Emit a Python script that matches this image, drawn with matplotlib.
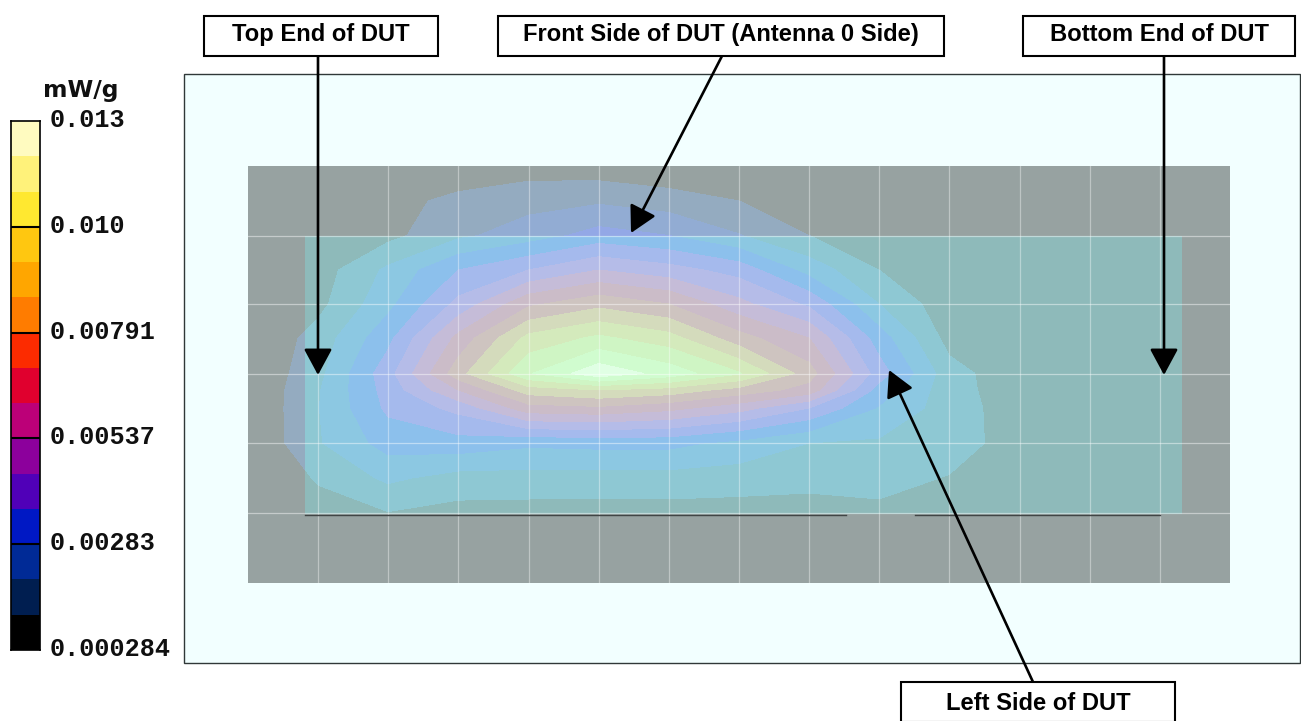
import numpy as np
import matplotlib
matplotlib.use("Agg")
import matplotlib.pyplot as plt
from matplotlib.patches import Rectangle

W, H = 1301, 721

# measurement grid (picture coordinates of the scan nodes)
x_nodes = [248, 318, 388, 458.4, 528.6, 598.7, 668.8, 739, 809, 879, 949.4, 1019.5, 1089.7, 1160, 1230]
y_nodes = [166, 201, 235.5, 270, 304, 338, 373.5, 390, 408, 443, 478, 513, 583]
x_grid = [318, 388, 458.4, 528.6, 598.7, 668.8, 739, 809, 879, 949.4, 1019.5, 1089.7, 1160]
y_grid = [235.5, 304, 373.5, 443, 513]

# field expressed in colour-band units
row_166 = [0, 0, 0, .17, .5, .38, .1, 0, 0, 0, 0, 0, 0, 0, 0]
row_201 = [0, 0, .6, 1.3, 1.65, 1.85, 1.5, 1.0, .4, 0, 0, 0, 0, 0, 0]
row_236 = [0, 0, .7, 1.8, 2.5, 3.4, 3.0, 2.05, 1.0, .4, 0, 0, 0, 0, 0]
row_270 = [0, .5, 2.2, 4.0, 5.0, 6.0, 5.4, 4.6, 2.6, 1.0, .1, 0, 0, 0, 0]
row_304 = [0, .7, 2.7, 5.3, 7.8, 8.7, 8.0, 6.3, 4.8, 2.0, .35, .05, 0, 0, 0]
row_338 = [0, 1.4, 3.7, 7.3, 10.3, 11.2, 10.4, 8.4, 7.0, 3.5, .6, .1, 0, 0, 0]
row_373 = [0, 1.7, 4.6, 8.6, 11.9, 13.7, 12.6, 11.1, 8.45, 4.5, 1.4, .3, .1, 0, 0]
row_390 = [0, 1.9, 4.4, 7.0, 9.5, 10.0, 9.6, 8.6, 7.6, 3.6, 1.4, .4, .05, 0, 0]
row_408 = [0, 1.95, 4.2, 5.3, 7.6, 7.8, 7.3, 6.4, 5.0, 2.9, 1.5, .45, 0, 0, 0]
row_443 = [0, 1.9, 3.4, 3.6, 3.2, 3.3, 3.3, 2.7, 2.0, 1.85, 1.4, .6, .1, 0, 0]
row_478 = [0, 1.1, 2.2, 1.6, 1.6, 1.6, 1.6, 1.5, 1.3, 1.3, .95, .2, 0, 0, 0]
row_513 = [0, .6, .95, .65, .6, .6, .6, .55, .6, .8, .1, 0, 0, 0, 0]
row_583 = [0] * 15
band_levels = list(range(1, 15))
inner_colors = ["#8ec8d3", "#8cc8e2", "#8cc0ec", "#a5baed", "#b5bce8", "#c5bcd8", "#cbbcc8",
                "#cec4c0", "#d4dbbc", "#d4eabc", "#cff5c4", "#d0fccf", "#e0ffe4"]
outer_colors = ["#94abc0", "#92acd3", "#93a8e6"] + inner_colors[3:]

# colour scale
scale_colors = ["#000000", "#001e50", "#002a96", "#0018c4", "#5000b8", "#8c009c", "#bc0078", "#e0002e",
                "#fc2b00", "#ff7c00", "#ffa600", "#ffc710", "#ffe830", "#fff27a", "#fffbc0"]
scale_labels = ["0.000284", "0.00283", "0.00537", "0.00791", "0.010", "0.013"]
scale_unit = "mW/g"

# callouts: label, box (x0, y0, x1, y1), text baseline, arrow tail, arrow head
callouts = [
    ("Top End of DUT", (204, 16, 438, 56), 41, (318, 56), (318, 375)),
    ("Front Side of DUT (Antenna 0 Side)", (498, 16, 944, 56), 41, (722, 56), (631, 233)),
    ("Bottom End of DUT", (1023, 16, 1295, 56), 41, (1164, 56), (1164, 375)),
    ("Left Side of DUT", (901, 682, 1175, 722), 710, (1033, 682), (889, 370)),
]

fig = plt.figure(figsize=(W / 100, H / 100), dpi=100, facecolor="white")
ax = fig.add_axes([0, 0, 1, 1])
ax.set_xlim(0, W)
ax.set_ylim(H, 0)
ax.axis("off")

ax.add_patch(Rectangle((184, 74), 1116, 589, fc="#f2ffff", ec="#303838", lw=1, zorder=1))
ax.add_patch(Rectangle((248, 166), 982, 417, fc="#97a2a1", ec="none", zorder=2))

Z = np.array([row_166, row_201, row_236, row_270, row_304, row_338, row_373,
              row_390, row_408, row_443, row_478, row_513, row_583])
cs_out = ax.contourf(x_nodes, y_nodes, Z, levels=band_levels, colors=outer_colors, zorder=3, antialiased=False)
rect = Rectangle((305, 236), 877, 278, fc="#8ebaba", ec="none", zorder=4)
ax.add_patch(rect)
cs_in = ax.contourf(x_nodes, y_nodes, Z, levels=band_levels, colors=inner_colors, zorder=5, antialiased=False)
cs_in.set_clip_path(rect)

for xv in x_grid:
    ax.plot([xv, xv], [166, 583], color="white", alpha=.38, lw=.9, zorder=6)
for yv in y_grid:
    ax.plot([248, 1230], [yv, yv], color="white", alpha=.45, lw=.9, zorder=6)
ax.plot([305, 846], [515, 515], color="#404545", lw=1, zorder=6)
ax.plot([915, 1160], [515, 515], color="#404545", lw=1, zorder=6)

# colour scale
n = len(scale_colors)
bar_top, bar_bot = 121, 650
cax = fig.add_axes([11 / W, 1 - bar_bot / H, 29 / W, (bar_bot - bar_top) / H])
cax.pcolormesh([0, 1], np.arange(n + 1), np.arange(n).reshape(-1, 1),
               cmap=matplotlib.colors.ListedColormap(scale_colors), shading="flat")
cax.set_xticks([])
cax.set_yticks([])
for s in cax.spines.values():
    s.set_linewidth(1.2)
for i in range(3, n, 3):
    cax.axhline(i, color="black", lw=1.5)
for i, lab in enumerate(scale_labels):
    y = bar_bot - (bar_bot - bar_top) * i / (len(scale_labels) - 1)
    ax.text(49.5, y - 1, lab, family="Liberation Mono", weight="bold", fontsize=18.1,
            va="center", ha="left", color="#101010", zorder=9)
ax.text(81, 91, scale_unit, family="DejaVu Sans", weight="bold", fontsize=16.8,
        ha="center", va="center", color="#101010", zorder=9)

for label, (x0, y0, x1, y1), base, tail, head in callouts:
    ax.annotate("", xy=head, xytext=tail, xycoords="data", textcoords="data", zorder=7,
                arrowprops=dict(arrowstyle="-|>,head_length=1.15,head_width=0.62", color="black", lw=1.9,
                                shrinkA=0, shrinkB=0, mutation_scale=14))
    ax.add_patch(Rectangle((x0, y0), x1 - x0, y1 - y0, fc="white", ec="black", lw=1.5, zorder=8, clip_on=True))
    ax.text((x0 + x1) / 2, base, label, family="Liberation Sans", weight="bold", fontsize=17.1,
            ha="center", va="baseline", color="black", zorder=9)

fig.savefig("out.png", dpi=100, facecolor="white")
